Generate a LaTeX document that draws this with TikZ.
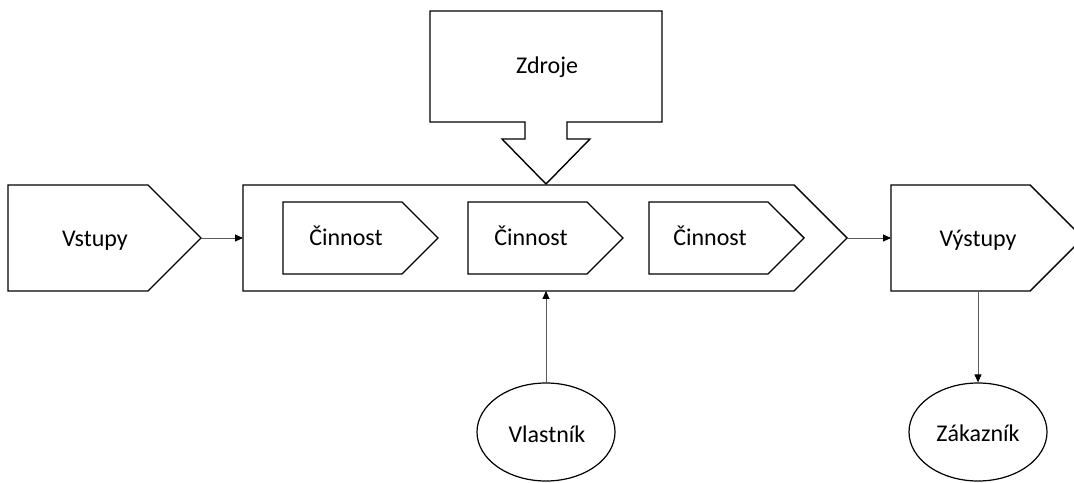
\documentclass[tikz,border=0pt]{standalone}
\usepackage{fontspec}
\setmainfont{Carlito}
\usetikzlibrary{arrows.meta,shapes.geometric}
\definecolor{linkgray}{RGB}{90,90,90}
\begin{document}
\begin{tikzpicture}[x=1bp,y=-1bp,
  outline/.style={draw=black,line width=1.4bp,line join=miter},
  label/.style={anchor=base,inner sep=0pt,font=\fontsize{24bp}{28bp}\selectfont},
  party/.style={draw=black,line width=1.2bp,ellipse,minimum width=138bp,minimum height=98bp,inner sep=0pt},
  link/.style={draw=linkgray,line width=0.9bp,-{Triangle[length=8bp,width=7bp,fill=black,color=black]}}]
\useasboundingbox (0,0) rectangle (1074,483);

% input, process and output chevrons
\draw[outline] (8,185) -- (148,185) -- (201,238) coordinate (vstupyTip)
  -- (148,291) -- (8,291) -- cycle;
\draw[outline] (243,185) -- (794,185) -- (847,238) coordinate (procTip)
  -- (794,291) -- (243,291) -- cycle;
\coordinate (procLeft) at (243,238);
\coordinate (procBottom) at (546,291);
\draw[outline] (891,185) -- (1030,185) -- (1083,238)
  -- (1030,291) -- (891,291) -- cycle;
\coordinate (vystupyLeft) at (891,238);
\coordinate (vystupyBottom) at (978,291);

% activities inside the process
\foreach \l in {283,468,649}{
  \draw[outline] (\l,202) -- ({\l+119},202) -- ({\l+155},238)
    -- ({\l+119},274) -- (\l,274) -- cycle;
}

% resources callout
\draw[outline] (430,11) -- (662,11) -- (662,122) -- (567,122) -- (567,139)
  -- (590,139) -- (546,184) -- (502,139) -- (525,139) -- (525,122)
  -- (430,122) -- cycle;

% texts
\node[label] (vstupy) at (95,247) {Vstupy};
\node[label] (cin1) at (346,246) {Činnost};
\node[label] (cin2) at (531,246) {Činnost};
\node[label] (cin3) at (710,246) {Činnost};
\node[label] (vystupy) at (978,247) {Výstupy};
\node[label] (zdroje) at (547,74) {Zdroje};

% owner and customer
\node[party] (vlastnik) at (546,432) {};
\node[label] (vlastnikText) at (547,442) {Vlastník};
\node[party] (zakaznik) at (978,432) {};
\node[label] (zakaznikText) at (978,441) {Zákazník};

% connectors
\draw[link] (vstupyTip) -- (procLeft);
\draw[link] (procTip) -- (vystupyLeft);
\draw[link] (vlastnik.north) -- (procBottom);
\draw[link] (vystupyBottom) -- (zakaznik.north);
\end{tikzpicture}
\end{document}
